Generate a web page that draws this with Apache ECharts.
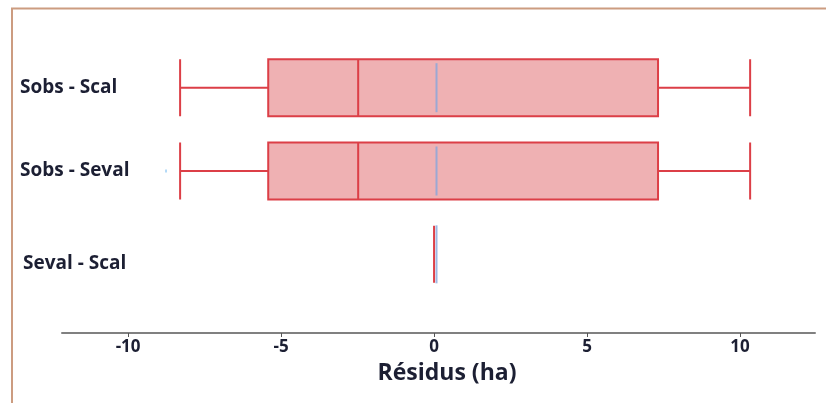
<!DOCTYPE html>
<html>
<head>
<meta charset="utf-8">
<script src="https://cdn.jsdelivr.net/npm/echarts@6/dist/echarts.min.js"></script>
<style>
  html, body { margin: 0; padding: 0; background: #fff; }
  #chart { width: 826px; height: 403px; }
</style>
</head>
<body>
<div id="chart"></div>
<script>
// Categories, top to bottom
const categories = ['Sobs - Scal', 'Sobs - Seval', 'Seval - Scal'];

// Boxes: [min, Q1, median, Q3, max]
const boxValues = [
  [-8.3, -5.42, -2.48, 7.32, 10.33],
  [-8.3, -5.42, -2.48, 7.32, 10.33],
  [0, 0, 0, 0, 0]
];

// Means (blue lines)
const meanValues = [0.08, 0.08, 0.08];

// Outlier points: [value, category index]
const outliers = [[-8.76, 1]];

const tickValues = [-10, -5, 0, 5, 10];

const labelFont = '"Open Sans", Lato, sans-serif';
const textColor = '#1c1f33';

const chart = echarts.init(document.getElementById('chart'));
chart.setOption({
  animation: false,
  backgroundColor: '#fff',
  graphic: [{
    type: 'polyline',
    shape: { points: [[12, 403], [12, 8.5], [826, 8.5]] },
    style: { stroke: '#cc9c80', lineWidth: 2, fill: null }
  }],
  grid: { left: 62, right: 11, top: 46, height: 250, outerBoundsMode: 'none', containLabel: false },
  xAxis: {
    type: 'value',
    min: -12.16,
    max: 12.45,
    offset: 37,
    splitLine: { show: false },
    axisLine: { show: true, lineStyle: { color: '#808080', width: 2 } },
    axisTick: { show: true, customValues: tickValues, length: 4, lineStyle: { color: '#555' } },
    axisLabel: {
      customValues: tickValues,
      margin: 6,
      color: textColor,
      fontWeight: 'bold',
      fontSize: 17,
      fontFamily: labelFont
    },
    name: 'Résidus (ha)',
    nameLocation: 'middle',
    nameGap: 29,
    nameTextStyle: {
      color: textColor,
      fontWeight: 'bold',
      fontSize: 23,
      fontFamily: labelFont,
      padding: [0, 0, 0, 17]
    }
  },
  yAxis: {
    type: 'category',
    data: categories.map((c, i) => (i === 2
      ? { value: c, textStyle: { align: 'left', verticalAlign: 'top', padding: [0, 0, 0, 3] } }
      : c)),
    inverse: true,
    axisLine: { show: false },
    axisTick: { show: false },
    splitLine: { show: false },
    axisLabel: {
      align: 'left',
      margin: 42,
      color: textColor,
      fontWeight: 'bold',
      fontSize: 19,
      fontFamily: labelFont
    }
  },
  series: [
    {
      type: 'boxplot',
      data: boxValues,
      boxWidth: [57, 57],
      itemStyle: { color: '#efb1b3', borderColor: '#dc3f47', borderWidth: 2 }
    },
    {
      type: 'scatter',
      data: meanValues.map((v, i) => [v, i]),
      symbol: 'rect',
      symbolSize: (val, p) => (p.dataIndex === 2 ? [2, 58] : [2, 49]),
      itemStyle: { color: '#86a6dc' },
      z: 5
    },
    {
      type: 'scatter',
      data: outliers,
      symbol: 'rect',
      symbolSize: [2, 3],
      itemStyle: { color: '#9fd0f5' }
    }
  ]
});
</script>
</body>
</html>
